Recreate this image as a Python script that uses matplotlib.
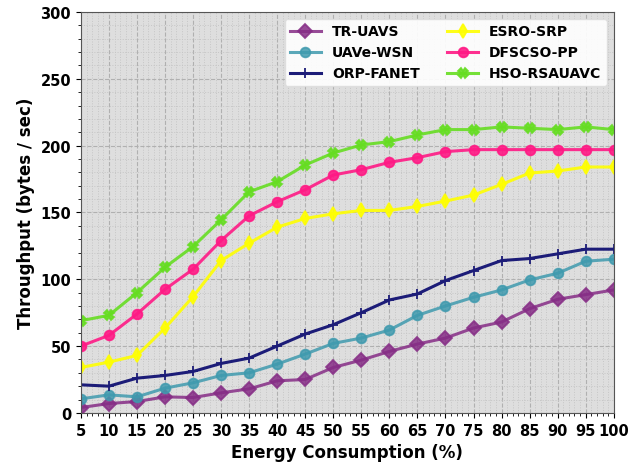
import matplotlib
matplotlib.use("Agg")
import matplotlib.pyplot as plt
from matplotlib.ticker import MultipleLocator

energy = [5, 10, 15, 20, 25, 30, 35, 40, 45, 50, 55, 60, 65, 70, 75, 80, 85, 90, 95, 100]

tr_uavs = [4, 7, 8.5, 12, 11.5, 15, 18, 24, 25, 34, 39.5, 46, 51.5, 56, 63.5, 68, 78, 85, 88.5, 92]
uave_wsn = [10.5, 13.5, 12, 18.5, 22.5, 28, 30, 36.5, 44, 52, 56, 62, 73, 80, 86.5, 92, 99.5, 104.5, 113.5, 115]
orp_fanet = [21, 20, 26, 28, 31, 37, 41, 50, 59, 66, 75, 84.5, 89, 99, 106.5, 114, 115.5, 119, 122.5, 122.5]
esro_srp = [34, 38, 43, 63.5, 87, 114, 127, 139, 145.5, 149, 151.5, 151.5, 154.5, 158.5, 163, 171, 179.5, 181, 184, 184]
dfscso_pp = [50, 58, 74, 92.5, 107.5, 129, 147.5, 158, 167, 178, 182, 187.5, 191, 195.5, 197, 197, 197, 197, 197, 197]
hso_rsauavc = [69, 73, 90, 109, 124.5, 144.5, 165.5, 173, 185.5, 194.5, 200.5, 203, 208, 212, 212, 214, 213, 212, 214, 212]

series = [
    ("TR-UAVS", tr_uavs, "#862d86", "D", 0.85),
    ("UAVe-WSN", uave_wsn, "#3f9aae", "o", 0.85),
    ("ORP-FANET", orp_fanet, "#1c1c78", "+", 1.0),
    ("ESRO-SRP", esro_srp, "#ffff00", "d", 0.9),
    ("DFSCSO-PP", dfscso_pp, "#ff1a85", "o", 0.9),
    ("HSO-RSAUAVC", hso_rsauavc, "#66dd22", "X", 0.9),
]

fig = plt.figure(figsize=(6.42, 4.64), dpi=100)
ax = fig.add_axes([0.126, 0.108, 0.83, 0.864])
ax.set_facecolor("#dedede")

for name, vals, color, marker, alpha in series:
    ax.plot(energy, vals, color=color, marker=marker, markersize=7,
            markeredgewidth=1.3, linewidth=2.2, alpha=alpha, label=name)

ax.set_xlim(5, 100)
ax.set_ylim(0, 300)
ax.set_xticks(energy)
ax.yaxis.set_major_locator(MultipleLocator(50))
ax.yaxis.set_minor_locator(MultipleLocator(10))
ax.xaxis.set_minor_locator(MultipleLocator(1))
ax.grid(which="major", color="#b0b0b0", linestyle="--", linewidth=0.8)
ax.grid(which="minor", color="#c6c6c6", linestyle=":", linewidth=0.7)
ax.set_axisbelow(True)

for lbl in ax.get_xticklabels() + ax.get_yticklabels():
    lbl.set_fontweight("bold")
ax.tick_params(labelsize=10.5)
ax.set_xlabel("Energy Consumption (%)", fontsize=12, fontweight="bold")
ax.set_ylabel("Throughput (bytes / sec)", fontsize=12, fontweight="bold")
for s in ax.spines.values():
    s.set_color("#555555")

ax.legend(ncol=2, loc="upper right", prop={"weight": "bold", "size": 10},
          framealpha=0.9, edgecolor="#dddddd", columnspacing=2.0,
          handlelength=2.2, bbox_to_anchor=(1.0, 1.0))

fig.savefig("out.png", dpi=100)
